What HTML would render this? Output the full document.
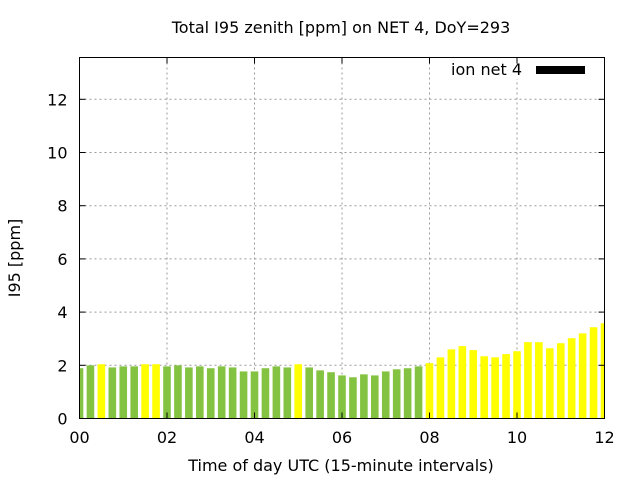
<!DOCTYPE html>
<html><head><meta charset="utf-8"><style>
body{margin:0;background:#fff}
svg text{font-family:"DejaVu Sans","Liberation Sans",sans-serif;font-size:16px;fill:#000}
</style></head><body>
<svg id="chart" width="640" height="480" xmlns="http://www.w3.org/2000/svg">
<text x="341" y="33" text-anchor="middle">Total I95 zenith [ppm] on NET 4, DoY=293</text>
<text transform="translate(20,258) rotate(-90)" text-anchor="middle">I95 [ppm]</text>
<text x="341" y="471" text-anchor="middle">Time of day UTC (15-minute intervals)</text>
<g id="grid"></g>
<g id="bars"></g>
<rect x="440" y="58" width="164" height="21" fill="#fff"/>
<text x="522" y="75" text-anchor="end">ion net 4</text>
<rect x="536" y="66" width="49" height="8" fill="#000"/>
<rect x="79.5" y="57.5" width="525" height="361" fill="none" stroke="#000" stroke-width="1"/>
<g id="axes"></g>
</svg>
<script>
const values=[1.89,2.0,2.04,1.92,1.96,1.96,2.04,2.04,1.96,2.0,1.92,1.96,1.89,1.96,1.92,1.77,1.77,1.89,1.96,1.92,2.04,1.92,1.81,1.74,1.62,1.55,1.66,1.62,1.77,1.85,1.89,1.96,2.08,2.3,2.6,2.72,2.57,2.34,2.3,2.42,2.53,2.87,2.87,2.64,2.83,3.02,3.2,3.43,3.58];
const flagged=[0,0,1,0,0,0,1,1,0,0,0,0,0,0,0,0,0,0,0,0,1,0,0,0,0,0,0,0,0,0,0,0,1,1,1,1,1,1,1,1,1,1,1,1,1,1,1,1,1];
const yTicks=[0,2,4,6,8,10,12];
const xTicks=["00","02","04","06","08","10","12"];
const NS="http://www.w3.org/2000/svg";
const X0=79.5,X1=604.5,Y0=418.5,PPU=26.6;
const xs=h=>X0+(X1-X0)*h/12;
const ys=v=>Y0-v*PPU;
function mk(tag,attrs,parent){const e=document.createElementNS(NS,tag);for(const k in attrs)e.setAttribute(k,attrs[k]);parent.appendChild(e);return e;}
const grid=document.getElementById('grid'),bars=document.getElementById('bars'),axes=document.getElementById('axes');
yTicks.forEach(t=>{
  const y=ys(t);
  if(t>0&&t<13){const l=mk('line',{x1:X0,x2:X1,y1:y,y2:y,stroke:'#999','stroke-dasharray':'2,3'},grid);
  
  }
  const a=mk('line',{x1:X0,x2:X0+6,y1:y,y2:y,stroke:'#000'},axes);
  
  
  mk('line',{x1:X1-6,x2:X1,y1:y,y2:y,stroke:'#000'},axes);
  const tx=mk('text',{x:X0-12,y:y+6,'text-anchor':'end'},axes);tx.textContent=t;
  
  
});
xTicks.forEach((t,i)=>{
  const x=xs(i*2);
  if(i>0&&i<6){const l=mk('line',{x1:x,x2:x,y1:57.5,y2:Y0,stroke:'#999','stroke-dasharray':'2,3'},grid);
  
  }
  const a=mk('line',{x1:x,x2:x,y1:Y0,y2:Y0-6,stroke:'#000'},axes);
  
  
  mk('line',{x1:x,x2:x,y1:57.5,y2:63.5,stroke:'#000'},axes);
  const tx=mk('text',{x:x,y:443,'text-anchor':'middle'},axes);tx.textContent=t;
  
  
});
values.forEach((v,i)=>{
  const cx=xs(i*0.25);let l=cx-3.8,r=cx+3.8;
  l=Math.max(l,X0);r=Math.min(r,X1);
  const b=mk('rect',{x:l,y:ys(v),width:r-l,height:Y0-ys(v),fill:flagged[i]?'#ffff00':'#84c341'},bars);
  
  
});
</script>
</body></html>
